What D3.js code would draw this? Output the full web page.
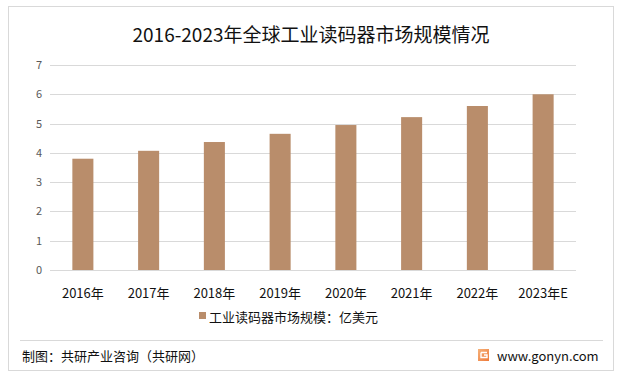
<!DOCTYPE html>
<html><head><meta charset="utf-8">
<script src="https://cdn.jsdelivr.net/npm/d3@7"></script>
<style>
html,body{margin:0;padding:0;background:#fff;}
text{font-family:"Microsoft YaHei","Noto Sans CJK SC","Noto Sans",sans-serif;}
</style></head>
<body><svg id="c" width="621" height="377"></svg>
<script>
const title = "2016-2023年全球工业读码器市场规模情况";
const categories = ["2016年","2017年","2018年","2019年","2020年","2021年","2022年","2023年E"];
const values = [3.8, 4.07, 4.37, 4.65, 4.95, 5.22, 5.6, 6.0];
const yTicks = [0,1,2,3,4,5,6,7];
const seriesName = "工业读码器市场规模：亿美元";
const source = "制图：共研产业咨询（共研网）";
const site = "www.gonyn.com";

const svg = d3.select("#c");
svg.append("rect").attr("x",0).attr("y",0).attr("width",621).attr("height",377).attr("fill","#fff");
svg.append("rect").attr("x",8.5).attr("y",6.5).attr("width",605).attr("height",364)
  .attr("fill","none").attr("stroke","#d9d9d9").attr("stroke-width",1);

svg.append("text").attr("x",311).attr("y",42).attr("text-anchor","middle")
  .attr("font-size",19).attr("fill","#111").text(title);

const x = d3.scaleBand().domain(categories).range([50,576]).paddingInner(0.68).paddingOuter(0.34);
const y = d3.scaleLinear().domain([0,7]).range([270,65]);

const grid = svg.append("g");
grid.selectAll("line").data(yTicks).join("line")
  .attr("x1",50).attr("x2",576).attr("y1",d=>Math.round(y(d))+0.5).attr("y2",d=>Math.round(y(d))+0.5)
  .attr("stroke","#d9d9d9").attr("stroke-width",1);

const yAxis = svg.append("g").attr("transform","translate(42,0)")
  .call(d3.axisLeft(y).tickValues(yTicks).tickSize(0).tickPadding(0).tickFormat(d3.format("d")));
yAxis.select(".domain").remove();
yAxis.selectAll("text").attr("font-size",11).attr("fill","#595959").attr("font-family",'"Microsoft YaHei","Noto Sans CJK SC",sans-serif');

svg.append("g").selectAll("rect").data(values).join("rect")
  .attr("x",(d,i)=>x(categories[i])).attr("width",x.bandwidth())
  .attr("y",d=>y(d)).attr("height",d=>y(0)-y(d)).attr("fill","#B98D6B");

const xAxis = svg.append("g").attr("transform","translate(0,270)")
  .call(d3.axisBottom(x).tickSize(0).tickPadding(19));
xAxis.select(".domain").remove();
xAxis.selectAll("text").attr("font-size",13).attr("fill","#111").attr("font-family",'"Microsoft YaHei","Noto Sans CJK SC",sans-serif');

// legend
svg.append("rect").attr("x",199).attr("y",312).attr("width",7).attr("height",7).attr("fill","#B98D6B");
svg.append("text").attr("x",209).attr("y",321.5).attr("font-size",13).attr("fill","#111").text(seriesName);

// footer
svg.append("line").attr("x1",20).attr("x2",603).attr("y1",340.5).attr("y2",340.5).attr("stroke","#d9d9d9");
svg.append("text").attr("x",22).attr("y",360.5).attr("font-size",13).attr("fill","#111").text(source);
const defs = svg.append("defs");
const gr = defs.append("linearGradient").attr("id","lg").attr("x1",0).attr("y1",0).attr("x2",1).attr("y2",1);
gr.append("stop").attr("offset",0).attr("stop-color","#F6B27A");
gr.append("stop").attr("offset",1).attr("stop-color","#EE7A3A");
svg.append("rect").attr("x",478).attr("y",349).attr("width",11).attr("height",12).attr("fill","url(#lg)");
svg.append("path").attr("d","M481,352.5 h6 M481,352.5 v5 h6 v-2.5 h-3").attr("stroke","#fff").attr("stroke-width",1.4).attr("fill","none");
svg.append("text").attr("x",497).attr("y",360.5).attr("font-size",13).attr("fill","#111").text(site);
</script></body></html>
